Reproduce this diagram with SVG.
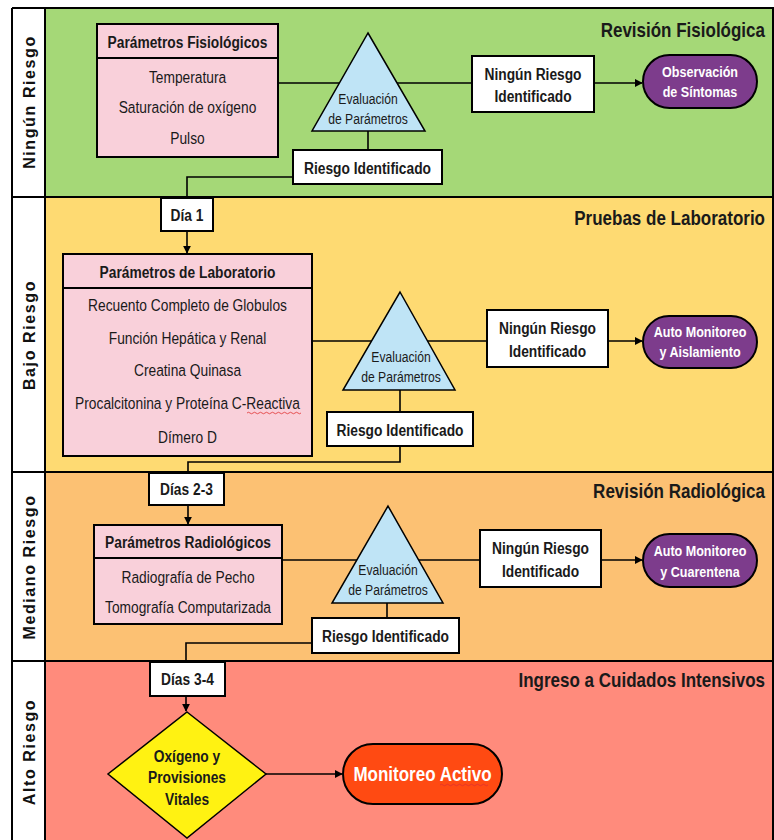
<svg xmlns="http://www.w3.org/2000/svg" width="774" height="840" viewBox="0 0 774 840">
<defs>
<marker id="ah" viewBox="0 0 10 10" refX="9" refY="5" markerWidth="8" markerHeight="8" markerUnits="userSpaceOnUse" orient="auto"><path d="M0,0 L10,5 L0,10 z" fill="#000"/></marker>
<style>
.t{font-family:"Liberation Sans",Arial,sans-serif;fill:#1a1a1a;text-anchor:middle}
.b{font-weight:bold}
.lane-lbl{font-family:"Liberation Sans",Arial,sans-serif;font-weight:bold;font-size:16px;letter-spacing:1.6px;text-anchor:middle;fill:#111}
.title{font-family:"Liberation Sans",Arial,sans-serif;font-weight:bold;font-size:21px;text-anchor:end;fill:#1a1a1a}
.box{fill:#fff;stroke:#000;stroke-width:2}
.pink{fill:#F9D0DA;stroke:#000;stroke-width:2}
.tri{fill:#BFE4F6;stroke:#000;stroke-width:1.5}
.pill{fill:#7D3C8C;stroke:#000;stroke-width:2}
.c{fill:none;stroke:#000;stroke-width:1.6}
.wt{fill:#fff}
.sq{fill:none;stroke:#e03030;stroke-width:0.8}
</style>
</defs>

<g id="lanes">
<rect x="45" y="8" width="728" height="189" fill="#A5D877"/>
<rect x="45" y="197" width="728" height="275" fill="#FEDA72"/>
<rect x="45" y="472" width="728" height="189" fill="#FCC173"/>
<rect x="45" y="661" width="728" height="179" fill="#FF8B7C"/>
<rect x="12" y="8" width="33" height="832" fill="#fff"/>
<path d="M12,8 H773 V840 M12,8 V840 M45,8 V840 M12,197 H773 M12,472 H773 M12,661 H773" fill="none" stroke="#000" stroke-width="2"/>
<text class="lane-lbl" transform="translate(35,102) rotate(-90)">Ningún Riesgo</text>
<text class="lane-lbl" transform="translate(35,335) rotate(-90)">Bajo Riesgo</text>
<text class="lane-lbl" transform="translate(35,567) rotate(-90)">Mediano Riesgo</text>
<text class="lane-lbl" transform="translate(35,752) rotate(-90)">Alto Riesgo</text>
<text class="title" transform="translate(765,37) scale(0.81,1)">Revisión Fisiológica</text>
<text class="title" transform="translate(765,225) scale(0.81,1)">Pruebas de Laboratorio</text>
<text class="title" transform="translate(765,498) scale(0.81,1)">Revisión Radiológica</text>
<text class="title" transform="translate(765,687) scale(0.81,1)">Ingreso a Cuidados Intensivos</text>
</g>

<g id="connectors">
<path class="c" d="M278,83 H472"/>
<path class="c" d="M594,83 H642" marker-end="url(#ah)"/>
<path class="c" d="M368,131 V150"/>
<path class="c" d="M293,177 H187 V198"/>
<path class="c" d="M187,231 V253" marker-end="url(#ah)"/>
<path class="c" d="M312,341 H487"/>
<path class="c" d="M608,341 H642" marker-end="url(#ah)"/>
<path class="c" d="M400,390 V412"/>
<path class="c" d="M400,446 V462 H188 V473"/>
<path class="c" d="M188,505 V524" marker-end="url(#ah)"/>
<path class="c" d="M282,560 H480"/>
<path class="c" d="M601,560 H642" marker-end="url(#ah)"/>
<path class="c" d="M387,603 V618"/>
<path class="c" d="M312,643 H186 V662"/>
<path class="c" d="M186,696 V711" marker-end="url(#ah)"/>
<path class="c" d="M266,774 H342" marker-end="url(#ah)"/>
</g>

<g id="params-fisio">
<rect class="pink" x="97" y="24" width="181" height="133"/>
<path d="M97,58 H278" stroke="#000" stroke-width="2"/>
<text class="t b" font-size="17" transform="translate(187.5,48) scale(0.81,1)">Parámetros Fisiológicos</text>
<text class="t" font-size="17" transform="translate(187.5,83) scale(0.81,1)">Temperatura</text>
<text class="t" font-size="17" transform="translate(187.5,113) scale(0.81,1)">Saturación de oxígeno</text>
<text class="t" font-size="17" transform="translate(187.5,144) scale(0.81,1)">Pulso</text>
</g>
<g id="eval-1">
<polygon class="tri" points="368,33 425,131 312,131"/>
<text class="t" font-size="15" transform="translate(368,104) scale(0.81,1)">Evaluación</text>
<text class="t" font-size="15" transform="translate(368,124) scale(0.81,1)">de Parámetros</text>
</g>
<g id="ninguno-1">
<rect class="box" x="472" y="56" width="122" height="56"/>
<text class="t b" font-size="17" transform="translate(533,80) scale(0.81,1)">Ningún Riesgo</text>
<text class="t b" font-size="17" transform="translate(533,102) scale(0.81,1)">Identificado</text>
</g>
<g id="observacion">
<rect class="pill" x="643" y="55" width="114" height="53" rx="26.5"/>
<text class="t b wt" font-size="15.5" transform="translate(700,77) scale(0.81,1)">Observación</text>
<text class="t b wt" font-size="15.5" transform="translate(700,97) scale(0.81,1)">de Síntomas</text>
</g>
<g id="riesgo-1">
<rect class="box" x="293" y="150" width="149" height="34"/>
<text class="t b" font-size="17" transform="translate(367.5,173.5) scale(0.81,1)">Riesgo Identificado</text>
</g>
<g id="dia-1">
<rect class="box" x="161" y="198" width="52" height="33"/>
<text class="t b" font-size="17" transform="translate(187,220.5) scale(0.81,1)">Día 1</text>
</g>

<g id="params-lab">
<rect class="pink" x="63" y="254" width="249" height="202"/>
<path d="M63,288 H312" stroke="#000" stroke-width="2"/>
<text class="t b" font-size="17" transform="translate(187.5,277.5) scale(0.81,1)">Parámetros de Laboratorio</text>
<text class="t" font-size="17" transform="translate(187.5,311) scale(0.81,1)">Recuento Completo de Globulos</text>
<text class="t" font-size="17" transform="translate(187.5,344) scale(0.81,1)">Función Hepática y Renal</text>
<text class="t" font-size="17" transform="translate(187.5,376) scale(0.81,1)">Creatina Quinasa</text>
<text class="t" font-size="17" transform="translate(187.5,409) scale(0.81,1)">Procalcitonina y Proteína C-Reactiva</text>
<path class="sq" d="M247,413 q1.5,-1.5 3,0 t3,0 t3,0 t3,0 t3,0 t3,0 t3,0 t3,0 t3,0 t3,0 t3,0 t3,0 t3,0 t3,0 t3,0 t3,0 t3,0 t3,0"/>
<text class="t" font-size="17" transform="translate(187.5,443) scale(0.81,1)">Dímero D</text>
</g>
<g id="eval-2">
<polygon class="tri" points="400,292 455,390 343,390"/>
<text class="t" font-size="15" transform="translate(401,362) scale(0.81,1)">Evaluación</text>
<text class="t" font-size="15" transform="translate(401,382) scale(0.81,1)">de Parámetros</text>
</g>
<g id="ninguno-2">
<rect class="box" x="487" y="310" width="121" height="57"/>
<text class="t b" font-size="17" transform="translate(547.5,334) scale(0.81,1)">Ningún Riesgo</text>
<text class="t b" font-size="17" transform="translate(547.5,357) scale(0.81,1)">Identificado</text>
</g>
<g id="aislamiento">
<rect class="pill" x="643" y="316" width="114" height="52" rx="26"/>
<text class="t b wt" font-size="15.5" transform="translate(700,337) scale(0.81,1)">Auto Monitoreo</text>
<text class="t b wt" font-size="15.5" transform="translate(700,357) scale(0.81,1)">y Aislamiento</text>
</g>
<g id="riesgo-2">
<rect class="box" x="327" y="412" width="146" height="34"/>
<text class="t b" font-size="17" transform="translate(400,435.5) scale(0.81,1)">Riesgo Identificado</text>
</g>
<g id="dias-2-3">
<rect class="box" x="149" y="473" width="75" height="32"/>
<text class="t b" font-size="17" transform="translate(186.5,495) scale(0.81,1)">Días 2-3</text>
</g>

<g id="params-radio">
<rect class="pink" x="94" y="525" width="188" height="99"/>
<path d="M94,558 H282" stroke="#000" stroke-width="2"/>
<text class="t b" font-size="17" transform="translate(188,548) scale(0.81,1)">Parámetros Radiológicos</text>
<text class="t" font-size="17" transform="translate(188,583) scale(0.81,1)">Radiografía de Pecho</text>
<text class="t" font-size="17" transform="translate(188,613) scale(0.81,1)">Tomografía Computarizada</text>
</g>
<g id="eval-3">
<polygon class="tri" points="388,506 443,603 332,603"/>
<text class="t" font-size="15" transform="translate(388,575) scale(0.81,1)">Evaluación</text>
<text class="t" font-size="15" transform="translate(388,595) scale(0.81,1)">de Parámetros</text>
</g>
<g id="ninguno-3">
<rect class="box" x="480" y="530" width="121" height="57"/>
<text class="t b" font-size="17" transform="translate(540.5,554) scale(0.81,1)">Ningún Riesgo</text>
<text class="t b" font-size="17" transform="translate(540.5,577) scale(0.81,1)">Identificado</text>
</g>
<g id="cuarentena">
<rect class="pill" x="643" y="534" width="114" height="53" rx="26.5"/>
<text class="t b wt" font-size="15.5" transform="translate(700,556) scale(0.81,1)">Auto Monitoreo</text>
<text class="t b wt" font-size="15.5" transform="translate(700,577) scale(0.81,1)">y Cuarentena</text>
</g>
<g id="riesgo-3">
<rect class="box" x="312" y="618" width="147" height="35"/>
<text class="t b" font-size="17" transform="translate(385.5,641.5) scale(0.81,1)">Riesgo Identificado</text>
</g>
<g id="dias-3-4">
<rect class="box" x="150" y="662" width="75" height="34"/>
<text class="t b" font-size="17" transform="translate(187.5,685) scale(0.81,1)">Días 3-4</text>
</g>

<g id="oxigeno">
<polygon points="187,712 266,774 187,838 108,774" fill="#FFF212" stroke="#000" stroke-width="1.5"/>
<text class="t b" font-size="17" transform="translate(187,762) scale(0.81,1)">Oxígeno y</text>
<text class="t b" font-size="17" transform="translate(187,783) scale(0.81,1)">Provisiones</text>
<text class="t b" font-size="17" transform="translate(187,805) scale(0.81,1)">Vitales</text>
</g>
<g id="monitoreo-activo">
<rect x="343" y="744" width="159" height="60" rx="30" fill="#FF4A12" stroke="#000" stroke-width="2"/>
<text class="t b wt" font-size="21" transform="translate(422.5,781) scale(0.81,1)">Monitoreo Activo</text>
<path class="sq" d="M440,785 q1.5,-1.5 3,0 t3,0 t3,0 t3,0 t3,0 t3,0 t3,0 t3,0 t3,0 t3,0 t3,0 t3,0 t3,0 t3,0 t3,0 t3,0"/>
</g>
</svg>
